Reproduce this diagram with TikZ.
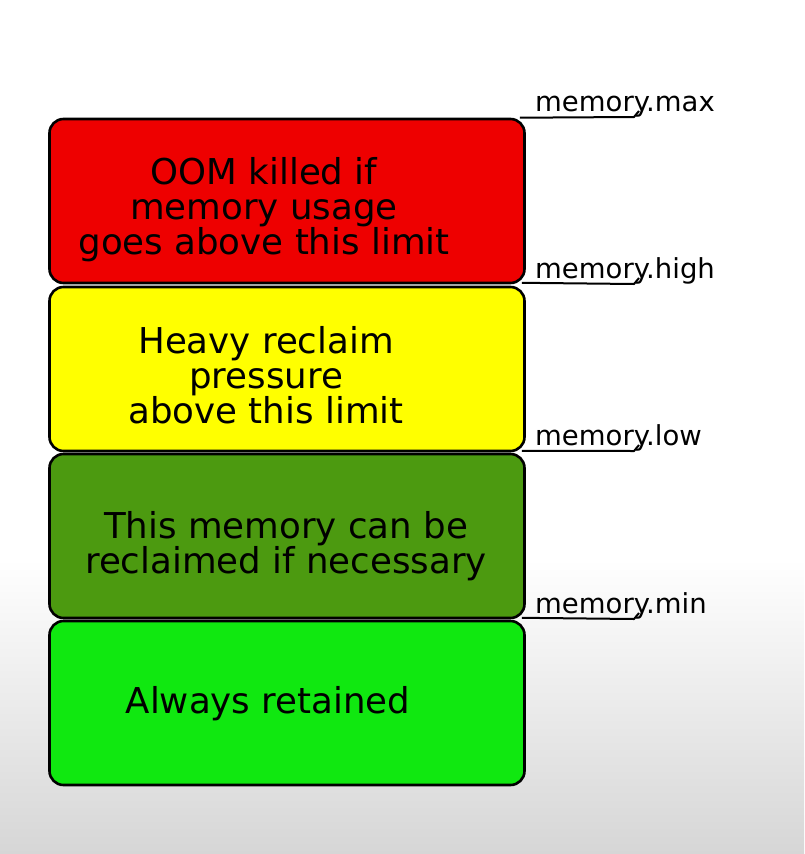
\documentclass[tikz,border=0pt]{standalone}
\usepackage{fontspec}
\setmainfont{DejaVu Sans}
\usetikzlibrary{calc}
\definecolor{cred}{HTML}{EE0000}
\definecolor{cyellow}{HTML}{FFFF00}
\definecolor{cdkgreen}{HTML}{4C9A10}
\definecolor{cltgreen}{HTML}{10E810}
\definecolor{cbgbot}{HTML}{D6D6D6}
\tikzset{
  membox/.style={draw=black, line width=2.6pt, rounded corners=14pt,
    minimum width=475pt, minimum height=164pt, inner sep=0pt},
  boxtext/.style={align=center, inner sep=0pt, text=black,
    font=\fontsize{35.6}{35}\selectfont},
  lbl/.style={anchor=base west, inner sep=0pt, text=black,
    font=\fontsize{27.5}{27.5}\selectfont},
  conn/.style={draw=black, line width=2pt, line join=round}
}
\begin{document}
\begin{tikzpicture}[x=1pt,y=-1pt]
\useasboundingbox (0,0) rectangle (804,854);
\fill[white] (0,0) rectangle (804,560);
\shade[top color=white, bottom color=cbgbot] (0,559) rectangle (804,854);

\node[membox, fill=cred]     (red)  at (287,201) {};
\node[membox, fill=cyellow]  (yel)  at (287,369) {};
\node[membox, fill=cdkgreen] (dkg)  at (287,536) {};
\node[membox, fill=cltgreen] (ltg)  at (287,703) {};

\node[boxtext] (tred) at (264,210) {OOM killed if\\memory usage\\goes above this limit};
\node[boxtext] (tyel) at (266,375) {Heavy reclaim\\pressure\\above this limit};
\node[boxtext] (tdkg) at (286,546) {This memory can be\\reclaimed if necessary};
\node[boxtext] (tltg) at (268,704) {Always retained};

\node[lbl] (lmax)  at (535,111) {memory.max};
\node[lbl] (lhigh) at (535,278) {memory.high};
\node[lbl] (llow)  at (535,445) {memory.low};
\node[lbl] (lmin)  at (535,613) {memory.min};

\draw[conn] ([xshift=-6pt]red.north east) -- ($(lmax.base west)+(99,6)$) -- ($(lmax.base west)+(104,0)$);
\draw[conn] ([xshift=-4pt,yshift=1.5pt]red.south east) -- ($(lhigh.base west)+(99,6)$) -- ($(lhigh.base west)+(104,0)$);
\draw[conn] ([xshift=-4pt,yshift=1.5pt]yel.south east) -- ($(llow.base west)+(99,6)$) -- ($(llow.base west)+(104,0)$);
\draw[conn] ([xshift=-4pt,yshift=1.5pt]dkg.south east) -- ($(lmin.base west)+(99,6)$) -- ($(lmin.base west)+(104,0)$);
\end{tikzpicture}
\end{document}
